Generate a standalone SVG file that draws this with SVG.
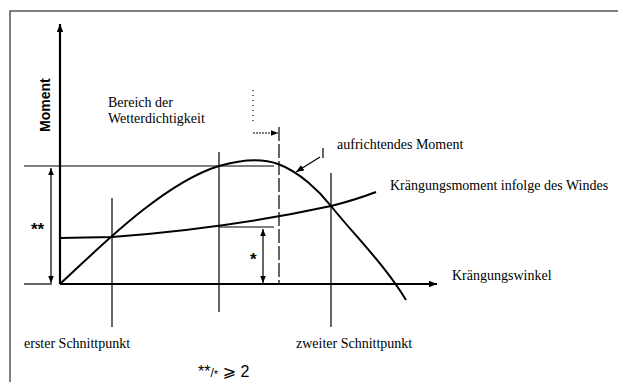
<svg xmlns="http://www.w3.org/2000/svg" width="618" height="382" viewBox="0 0 618 382">
<style>
.frame{stroke:#555;stroke-width:1.5;fill:none}
.ax{stroke:#000;stroke-width:2.2;fill:none}
.ln{stroke:#000;stroke-width:1.2;fill:none}
.cv{stroke:#000;stroke-width:2;fill:none}
.serif{font-family:"Liberation Serif","Times New Roman",serif;font-size:14px;fill:#000}
.sans{font-family:"Liberation Sans",Arial,"DejaVu Sans",sans-serif;fill:#000}
</style>
<defs>
<marker id="ah" viewBox="0 0 10 10" refX="10" refY="5" markerWidth="8" markerHeight="8" markerUnits="userSpaceOnUse" orient="auto-start-reverse">
<path d="M0,1 L10,5 L0,9 Z" fill="#000"/>
</marker>
<marker id="ahs" viewBox="0 0 10 10" refX="10" refY="5" markerWidth="7" markerHeight="7" markerUnits="userSpaceOnUse" orient="auto-start-reverse">
<path d="M0,1 L10,5 L0,9 Z" fill="#000"/>
</marker>
</defs>
<rect width="618" height="382" fill="#fff"/>
<g id="frame">
<path class="frame" d="M10,382 L10,11 L618,11"/>
</g>
<g id="axes">
<line class="ax" x1="60" y1="284" x2="60" y2="24" marker-end="url(#ah)"/>
<line class="ax" x1="60" y1="284" x2="437" y2="284" marker-end="url(#ah)"/>
<line class="ln" x1="24" y1="284" x2="52" y2="284" stroke-width="1.5"/>
</g>
<g id="connectors">
<line class="ln" x1="24" y1="166" x2="274" y2="166" stroke-width="1.5"/>
<line class="ln" x1="219" y1="227" x2="274" y2="227" stroke-width="1.5"/>
<line class="ln" x1="51" y1="168" x2="51" y2="283" marker-start="url(#ahs)" marker-end="url(#ahs)"/>
<line class="ln" x1="263" y1="229" x2="263" y2="283" marker-start="url(#ahs)" marker-end="url(#ahs)"/>
<line class="ln" x1="112" y1="198" x2="112" y2="327"/>
<line class="ln" x1="219" y1="152" x2="219" y2="312"/>
<line class="ln" x1="331" y1="173" x2="331" y2="327"/>
<line class="ln" x1="279" y1="127" x2="279" y2="284" stroke-dasharray="14 3"/>
<line class="ln" x1="253" y1="90" x2="253" y2="124" stroke="#888" stroke-width="0.8" stroke-dasharray="1 4"/>
<line class="ln" x1="253" y1="133" x2="278" y2="133" stroke-dasharray="2 1" marker-end="url(#ahs)"/>
<line class="ln" x1="320" y1="157" x2="296" y2="172" marker-end="url(#ah)"/>
<line class="ln" x1="323" y1="148" x2="323" y2="158" stroke-width="1"/>
</g>
<g id="aufrichtendes-moment-curve">
<path class="cv" d="M60,284 C90,257 160,184 219,166 C240,160 262,158 278,164 C300,172 320,192 331,206 C355,236 385,265 406,300"/>
</g>
<g id="kraengungsmoment-curve">
<path class="cv" d="M60,238 L112,237 Q230,228 331,206 Q355,200 376,192"/>
</g>
<g id="labels">
<text class="sans" font-size="14" font-weight="bold" transform="translate(50,132) rotate(-90)">Moment</text>
<text class="serif" x="108" y="107">Bereich der</text>
<text class="serif" x="108" y="123">Wetterdichtigkeit</text>
<text class="serif" x="337" y="149">aufrichtendes Moment</text>
<text class="serif" x="390" y="190">Krängungsmoment infolge des Windes</text>
<text class="serif" x="452" y="280">Krängungswinkel</text>
<text class="serif" x="24" y="348">erster Schnittpunkt</text>
<text class="serif" x="296" y="348">zweiter Schnittpunkt</text>
<text class="sans" font-size="17" font-weight="bold" x="31" y="235">**</text>
<text class="sans" font-size="17" font-weight="bold" x="250" y="265">*</text>
<text class="sans" font-size="16" x="198" y="377">**<tspan font-size="12">/</tspan><tspan font-size="11" dy="1">*</tspan><tspan dy="-1"> ⩾ 2</tspan></text>
</g>
</svg>
